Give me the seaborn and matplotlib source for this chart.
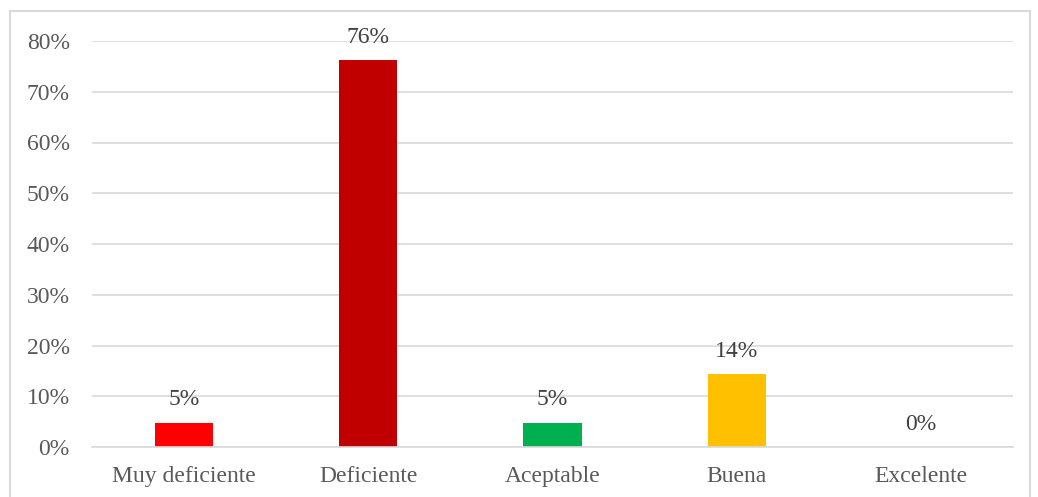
import seaborn as sns
import matplotlib.pyplot as plt
import pandas as pd
from matplotlib.patches import Rectangle

categories = ["Muy deficiente", "Deficiente", "Aceptable", "Buena", "Excelente"]
values = [0.0476, 0.7619, 0.0476, 0.1429, 0.0]
labels = ["5%", "76%", "5%", "14%", "0%"]
colors = ["#FF0000", "#C00000", "#00B050", "#FFC000", "#4472C4"]

df = pd.DataFrame({"categoria": categories, "valor": values})

sns.set_style("white")
plt.rcParams["font.family"] = ["Liberation Serif", "DejaVu Serif"]

fig = plt.figure(figsize=(10.38, 4.97), dpi=100)
ax = fig.add_axes([92 / 1038, 1 - 447 / 497, 921 / 1038, 406 / 497])

sns.barplot(data=df, x="categoria", y="valor", hue="categoria",
            palette=colors, legend=False, width=0.315, ax=ax, saturation=1,
            linewidth=0)

for cont, lab in zip(ax.containers, labels):
    ax.bar_label(cont, labels=[lab], padding=9, fontsize=17, color="#404040")

ax.set_ylim(0, 0.8)
ax.set_xlim(-0.5, 4.5)
ax.set_yticks([i / 10 for i in range(9)])
ax.set_yticklabels([f"{i * 10}%" for i in range(9)])
ax.yaxis.grid(True, color="#D9D9D9", linewidth=1.2)
ax.set_axisbelow(True)
ax.set_xlabel("")
ax.set_ylabel("")
ax.tick_params(axis="y", length=0, pad=16, labelsize=17, labelcolor="#595959")
ax.tick_params(axis="x", length=0, pad=14, labelsize=17, labelcolor="#595959")
for side in ["top", "right", "left"]:
    ax.spines[side].set_visible(False)
ax.spines["bottom"].set_color("#D9D9D9")
ax.spines["bottom"].set_linewidth(1.2)

# marco exterior del grafico
fig.patches.append(Rectangle((10 / 1038, -0.05), 1020 / 1038, 1 - 11 / 497 + 0.05,
                             transform=fig.transFigure, fill=False,
                             edgecolor="#D9D9D9", linewidth=1.5))

plt.savefig("out.png", dpi=100)
